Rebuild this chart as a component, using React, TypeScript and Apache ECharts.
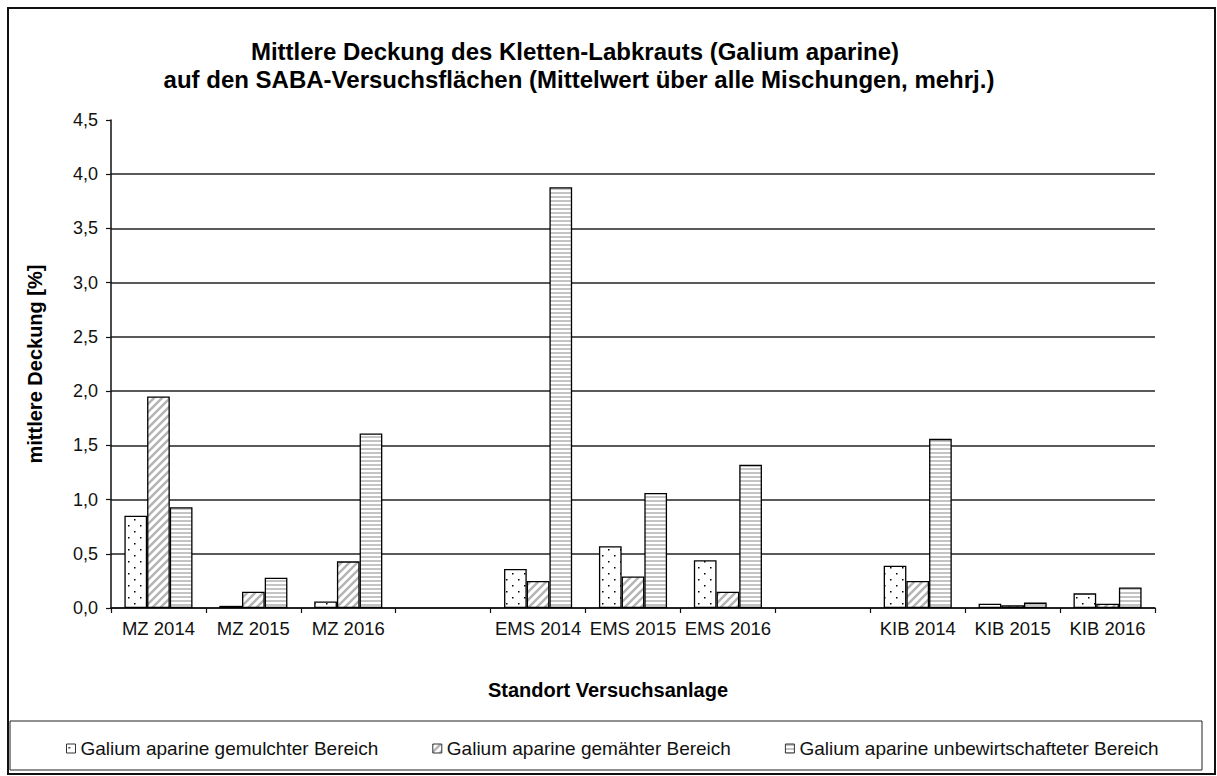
import React, { useEffect, useRef } from "react";
import * as echarts from "echarts";

const categories = ["MZ 2014", "MZ 2015", "MZ 2016", "", "EMS 2014", "EMS 2015", "EMS 2016", "", "KIB 2014", "KIB 2015", "KIB 2016"];
const mulched = [0.85, 0.02, 0.06, null, 0.36, 0.57, 0.44, null, 0.39, 0.04, 0.135];
const mown = [1.95, 0.15, 0.43, null, 0.25, 0.29, 0.15, null, 0.25, 0.025, 0.04];
const unmanaged = [0.93, 0.28, 1.61, null, 3.88, 1.06, 1.32, null, 1.56, 0.05, 0.19];
const seriesNames = [
  "Galium aparine gemulchter Bereich",
  "Galium aparine gemähter Bereich",
  "Galium aparine unbewirtschafteter Bereich",
];
const titleLines = [
  "Mittlere Deckung des Kletten-Labkrauts (Galium aparine)",
  "auf den SABA-Versuchsflächen (Mittelwert über alle Mischungen, mehrj.)",
];
const yAxisTitle = "mittlere Deckung [%]";
const xAxisTitle = "Standort Versuchsanlage";

const FONT = "'Liberation Sans', Arial, sans-serif";

function makeDots() {
  const c = document.createElement("canvas");
  c.width = 12; c.height = 12;
  const g = c.getContext("2d")!;
  g.fillStyle = "#fff"; g.fillRect(0, 0, 12, 12);
  g.fillStyle = "#000";
  g.fillRect(2, 3, 1.5, 1.5);
  g.fillRect(8, 9, 1.5, 1.5);
  return c;
}
function makeDiag() {
  const s = 8;
  const c = document.createElement("canvas");
  c.width = s; c.height = s;
  const g = c.getContext("2d")!;
  g.fillStyle = "#fff"; g.fillRect(0, 0, s, s);
  g.strokeStyle = "#b4b4b4"; g.lineWidth = 2.4;
  g.beginPath();
  g.moveTo(-2, s + 2); g.lineTo(s + 2, -2);
  g.moveTo(-2, 2); g.lineTo(2, -2);
  g.moveTo(s - 2, s + 2); g.lineTo(s + 2, s - 2);
  g.stroke();
  return c;
}
function makeStripes() {
  const c = document.createElement("canvas");
  c.width = 4; c.height = 4;
  const g = c.getContext("2d")!;
  g.fillStyle = "#fff"; g.fillRect(0, 0, 4, 4);
  g.fillStyle = "#c4c4c4"; g.fillRect(0, 0, 4, 2);
  return c;
}

export default function App() {
  const ref = useRef<HTMLDivElement>(null);
  useEffect(() => {
    const chart = echarts.init(ref.current!, null, { renderer: "svg" });
    const patterns = [makeDots(), makeDiag(), makeStripes()];
    const datas = [mulched, mown, unmanaged];
    chart.setOption({
      animation: false,
      backgroundColor: "#fff",
      textStyle: { fontFamily: FONT },
      grid: { left: 111, right: 62, top: 120, bottom: 168 },
      legend: {
        data: seriesNames,
        left: 61,
        top: 734,
        icon: "rect",
        itemWidth: 9,
        itemHeight: 9,
        itemGap: 54,
        textStyle: { fontSize: 19, color: "#111", fontFamily: FONT },
        itemStyle: { borderColor: "#333", borderWidth: 1 },
      },
      xAxis: {
        type: "category",
        data: categories,
        axisLine: { lineStyle: { color: "#111", width: 1.5 } },
        axisTick: { show: true, length: 5, lineStyle: { color: "#111", width: 1.2 } },
        axisLabel: { interval: 0, fontSize: 18.5, color: "#111", margin: 11, fontFamily: FONT },
        splitLine: { show: false },
      },
      yAxis: {
        type: "value",
        min: 0,
        max: 4.5,
        interval: 0.5,
        name: yAxisTitle,
        nameLocation: "middle",
        nameGap: 66,
        nameTextStyle: { fontSize: 20, fontWeight: "bold", color: "#000", fontFamily: FONT },
        axisLine: { show: true, lineStyle: { color: "#111", width: 1.5 } },
        axisTick: { show: true, length: 5, lineStyle: { color: "#111", width: 1.2 } },
        axisLabel: {
          fontSize: 18,
          color: "#111",
          margin: 13,
          fontFamily: FONT,
          formatter: (v: number) => v.toFixed(1).replace(".", ","),
        },
        splitLine: { show: true, showMaxLine: false, lineStyle: { color: "#222", width: 1.5 } },
      },
      series: seriesNames.map((name, i) => ({
        name,
        type: "bar",
        data: datas[i],
        barWidth: 22.7,
        barGap: "0%",
        itemStyle: {
          color: { image: patterns[i], repeat: "repeat" },
          borderColor: "#000",
          borderWidth: 1.3,
        },
      })),
      graphic: [
        {
          type: "rect",
          shape: { x: 8, y: 8, width: 1207, height: 766 },
          style: { fill: "none", stroke: "#111", lineWidth: 2 },
          silent: true,
        },
        {
          type: "rect",
          shape: { x: 10, y: 721, width: 1192, height: 49 },
          style: { fill: "none", stroke: "#222", lineWidth: 1 },
          silent: true,
        },
        {
          type: "text",
          x: 575,
          y: 51,
          style: {
            text: titleLines[0],
            fontSize: 24,
            fontWeight: "bold",
            fontFamily: FONT,
            fill: "#000",
            textAlign: "center",
            textVerticalAlign: "middle",
          },
        },
        {
          type: "text",
          x: 579,
          y: 79,
          style: {
            text: titleLines[1],
            fontSize: 24,
            fontWeight: "bold",
            fontFamily: FONT,
            fill: "#000",
            textAlign: "center",
            textVerticalAlign: "middle",
          },
        },
        {
          type: "text",
          x: 608,
          y: 690,
          style: {
            text: xAxisTitle,
            fontSize: 20,
            fontWeight: "bold",
            fontFamily: FONT,
            fill: "#000",
            textAlign: "center",
            textVerticalAlign: "middle",
          },
        },
      ],
    });
    return () => chart.dispose();
  }, []);
  return (
    <div
      ref={ref}
      style={{ position: "absolute", left: 0, top: 0, width: 1217, height: 776 }}
    />
  );
}
